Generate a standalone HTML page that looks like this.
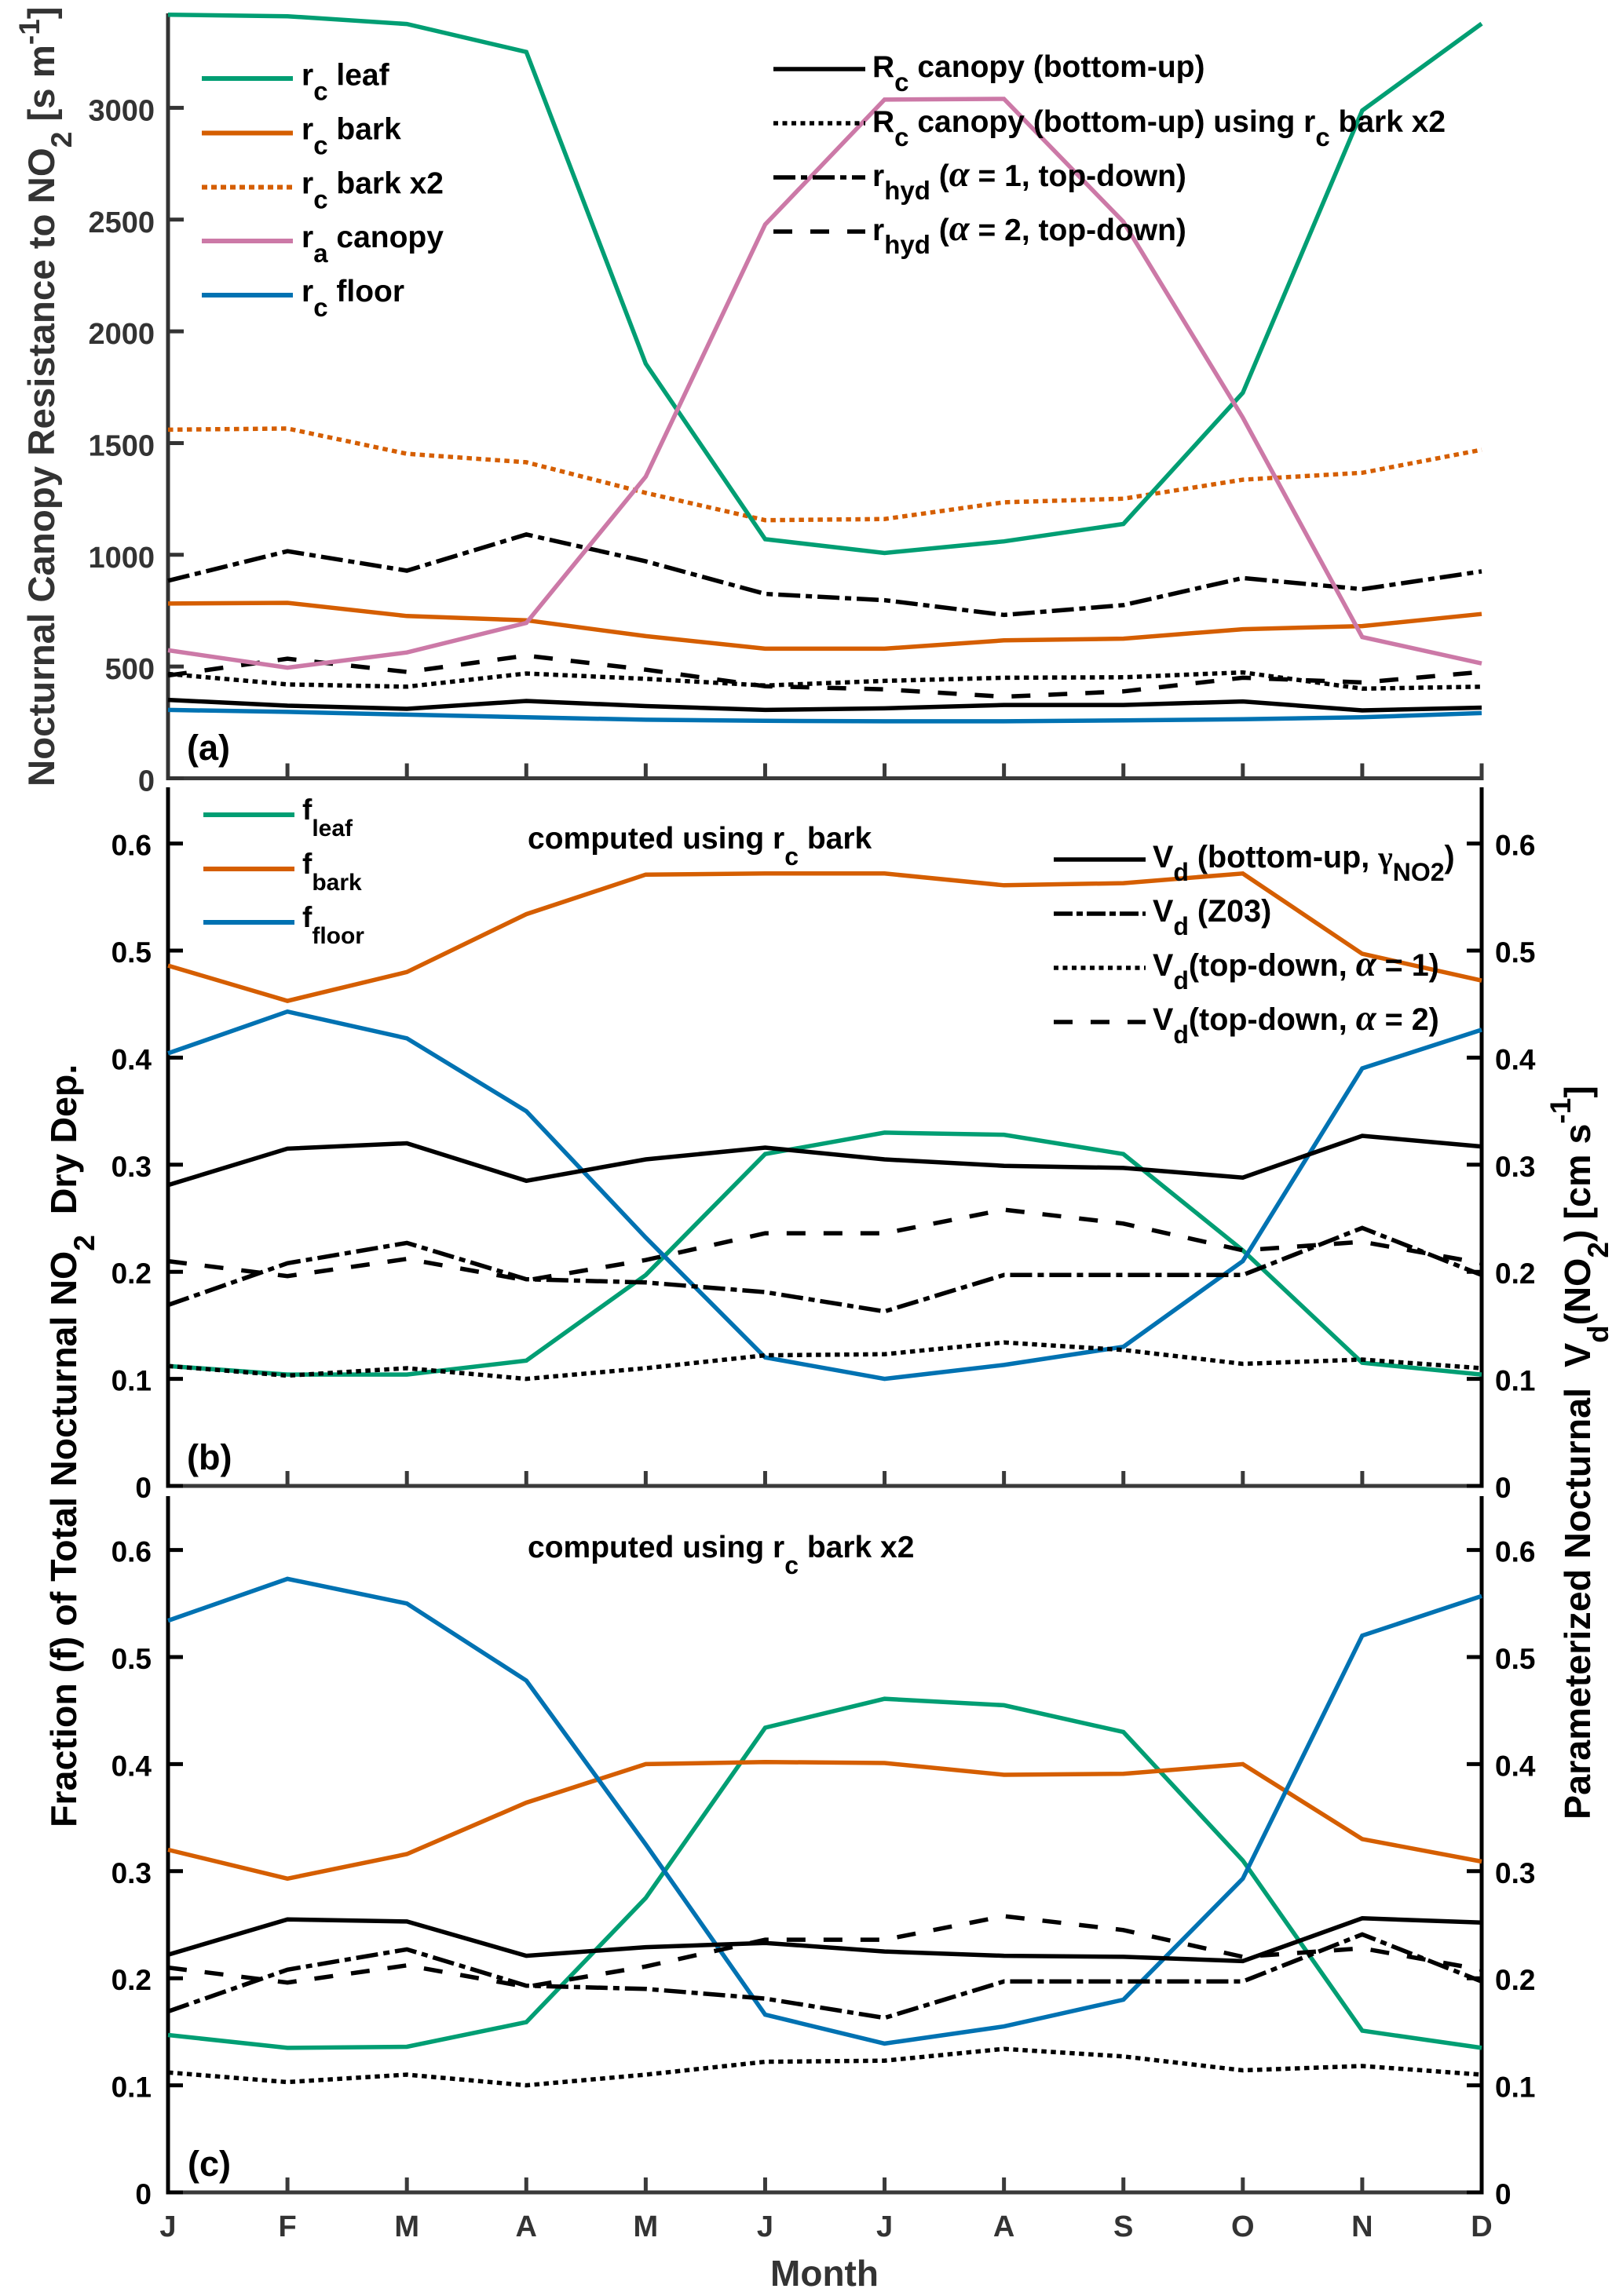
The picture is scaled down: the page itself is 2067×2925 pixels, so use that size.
<!DOCTYPE html>
<html><head><meta charset="utf-8"><title>Nocturnal canopy resistance and NO2 dry deposition</title>
<style>
html,body{margin:0;padding:0;background:#fff}
svg{display:block}
text{font-family:"Liberation Sans",Arial,sans-serif;font-weight:bold;white-space:pre;fill:#000}
.lg{font-size:39px}
.sb{font-size:33px}
.lb{font-size:37px}
.lv{font-size:39.5px}
.sc{font-size:30px}
.sv{font-size:32px}
.gr{font-family:"Liberation Serif",serif;font-style:italic;font-weight:bold;font-size:47px}
.ps{font-size:36px}
</style></head>
<body>
<svg id="chart" xmlns="http://www.w3.org/2000/svg" width="2067" height="2925" viewBox="0 0 2067 2925">
<rect width="2067" height="2925" fill="#fff"/>
<g id="marks"></g>

<text style="font-size:47.4px;fill:#333" transform="translate(69,1002) rotate(-90)">Nocturnal Canopy Resistance to NO<tspan dy="22" style="font-size:37px">2</tspan><tspan dy="-22"> [s m</tspan><tspan dy="-19" style="font-size:37px">-1</tspan><tspan dy="19">]</tspan></text>
<text style="font-size:46.6px" transform="translate(97,2328) rotate(-90)">Fraction (f) of Total Nocturnal NO<tspan dy="23" style="font-size:37px">2</tspan><tspan dy="-23">  Dry Dep.</tspan></text>
<text style="font-size:46.7px" transform="translate(2025,2318) rotate(-90)">Parameterized Nocturnal  V<tspan dy="23" style="font-size:37px">d</tspan><tspan dy="-23">(NO</tspan><tspan dy="23" style="font-size:37px">2</tspan><tspan dy="-23">) [cm s</tspan><tspan dy="-25" style="font-size:37px">-1</tspan><tspan dy="25">]</tspan></text>
<text x="1050" y="2912" text-anchor="middle" style="font-size:46px;fill:#333">Month</text>

<text x="238" y="968" style="font-size:45px">(a)</text>
<text x="238" y="1872" style="font-size:45px">(b)</text>
<text x="239" y="2772" style="font-size:45px">(c)</text>

<g>
<g><line x1="257" x2="373" y1="100" y2="100" stroke="#009E73" stroke-width="6"/><text class="lg" x="384" y="108.5">r<tspan class="sb" dy="19">c</tspan><tspan dy="-19"> leaf</tspan></text></g>
<g><line x1="257" x2="373" y1="169.5" y2="169.5" stroke="#D55E00" stroke-width="6"/><text class="lg" x="384" y="177.5">r<tspan class="sb" dy="19">c</tspan><tspan dy="-19"> bark</tspan></text></g>
<g><line x1="257" x2="373" y1="238.5" y2="238.5" stroke="#D55E00" stroke-width="6" stroke-dasharray="7 5"/><text class="lg" x="384" y="246.5">r<tspan class="sb" dy="19">c</tspan><tspan dy="-19"> bark x2</tspan></text></g>
<g><line x1="257" x2="373" y1="307" y2="307" stroke="#CC79A7" stroke-width="6"/><text class="lg" x="384" y="315">r<tspan class="sb" dy="19">a</tspan><tspan dy="-19"> canopy</tspan></text></g>
<g><line x1="257" x2="373" y1="376" y2="376" stroke="#0072B2" stroke-width="6"/><text class="lg" x="384" y="384">r<tspan class="sb" dy="19">c</tspan><tspan dy="-19"> floor</tspan></text></g>
</g>

<g>
<g><line x1="985" x2="1102" y1="88" y2="88" stroke="#000" stroke-width="5.5"/><text class="lg" x="1111" y="98">R<tspan class="sb" dy="18">c</tspan><tspan dy="-18"> canopy (bottom-up)</tspan></text></g>
<g><line x1="985" x2="1102" y1="157" y2="157" stroke="#000" stroke-width="5.5" stroke-dasharray="6 5.5"/><text class="lg" x="1111" y="168">R<tspan class="sb" dy="18">c</tspan><tspan dy="-18"> canopy (bottom-up) using r</tspan><tspan class="sb" dy="18">c</tspan><tspan dy="-18"> bark x2</tspan></text></g>
<g><line x1="985" x2="1102" y1="226" y2="226" stroke="#000" stroke-width="5.5" stroke-dasharray="28 7 8 7"/><text class="lg" x="1111" y="237">r<tspan class="sb" dy="17">hyd</tspan><tspan dy="-17"> (</tspan><tspan class="gr">α</tspan><tspan> = 1, top-down)</tspan></text></g>
<g><line x1="985" x2="1102" y1="295" y2="295" stroke="#000" stroke-width="5.5" stroke-dasharray="24 23"/><text class="lg" x="1111" y="306">r<tspan class="sb" dy="17">hyd</tspan><tspan dy="-17"> (</tspan><tspan class="gr">α</tspan><tspan> = 2, top-down)</tspan></text></g>
</g>

<g>
<g><line x1="259" x2="375" y1="1038" y2="1038" stroke="#009E73" stroke-width="6"/><text class="lb" x="385" y="1044">f<tspan class="sc" dy="21">leaf</tspan></text></g>
<g><line x1="259" x2="375" y1="1107" y2="1107" stroke="#D55E00" stroke-width="6"/><text class="lb" x="385" y="1113">f<tspan class="sc" dy="21">bark</tspan></text></g>
<g><line x1="259" x2="375" y1="1175" y2="1175" stroke="#0072B2" stroke-width="6"/><text class="lb" x="385" y="1181">f<tspan class="sc" dy="21">floor</tspan></text></g>
</g>

<text style="font-size:39px" x="672" y="1081">computed using r<tspan class="sv" dy="21">c</tspan><tspan dy="-21"> bark</tspan></text>
<text style="font-size:39px" x="672" y="1984">computed using r<tspan class="sv" dy="21">c</tspan><tspan dy="-21"> bark x2</tspan></text>

<g>
<g><line x1="1342" x2="1459" y1="1095" y2="1095" stroke="#000" stroke-width="5.5"/><text class="lv" x="1468" y="1105">V<tspan class="sv" dy="17">d</tspan><tspan dy="-17"> (bottom-up, </tspan><tspan style="font-family:'Liberation Serif',serif">γ</tspan><tspan class="sv" dy="17">NO2</tspan><tspan dy="-17">)</tspan></text></g>
<g><line x1="1342" x2="1459" y1="1164" y2="1164" stroke="#000" stroke-width="5.5" stroke-dasharray="24 5 8 5"/><text class="lv" x="1468" y="1174">V<tspan class="sv" dy="17">d</tspan><tspan dy="-17"> (Z03)</tspan></text></g>
<g><line x1="1342" x2="1459" y1="1233" y2="1233" stroke="#000" stroke-width="5.5" stroke-dasharray="6 5.5"/><text class="lv" x="1468" y="1243">V<tspan class="sv" dy="17">d</tspan><tspan dy="-17">(top-down, </tspan><tspan class="gr">α</tspan><tspan> = 1)</tspan></text></g>
<g><line x1="1342" x2="1459" y1="1302" y2="1302" stroke="#000" stroke-width="5.5" stroke-dasharray="24 23"/><text class="lv" x="1468" y="1312">V<tspan class="sv" dy="17">d</tspan><tspan dy="-17">(top-down, </tspan><tspan class="gr">α</tspan><tspan> = 2)</tspan></text></g>
</g>
</svg>

<script>
const months = ['J','F','M','A','M','J','J','A','S','O','N','D'];
const resistanceTicks = [0,500,1000,1500,2000,2500,3000];
const fractionTicks = [0,0.1,0.2,0.3,0.4,0.5,0.6];
const fractionTickLabels = ['0','0.1','0.2','0.3','0.4','0.5','0.6'];

const rcLeaf = [3417,3410,3375,3250,1855,1070,1008,1060,1138,1725,2988,3377];
const rcBark = [782,785,726,707,636,580,580,617,625,667,681,735];
const rcBarkX2 = [1560,1565,1452,1414,1277,1155,1160,1235,1251,1336,1367,1470];
const raCanopy = [573,495,563,695,1350,2478,3037,3040,2490,1614,632,514];
const rcFloor = [306,297,285,273,262,257,255,255,259,264,273,292];
const rcCanopy = [351,325,311,346,323,306,313,328,328,344,304,316];
const rcCanopyX2 = [467,420,410,469,445,415,436,450,452,474,401,410];
const rhydAlpha1 = [884,1016,929,1091,971,825,797,731,775,896,846,926];
const rhydAlpha2 = [460,535,476,549,486,412,398,365,389,450,429,476];

const fLeafB = [0.112,0.104,0.104,0.117,0.197,0.31,0.33,0.328,0.31,0.22,0.115,0.104];
const fBarkB = [0.486,0.453,0.48,0.534,0.571,0.572,0.572,0.561,0.563,0.572,0.497,0.472];
const fFloorB = [0.404,0.443,0.418,0.35,0.232,0.12,0.1,0.113,0.13,0.21,0.39,0.426];
const vdBottomUpB = [0.281,0.315,0.32,0.285,0.305,0.316,0.305,0.299,0.297,0.288,0.327,0.317];

const fLeafC = [0.147,0.135,0.136,0.159,0.275,0.434,0.461,0.455,0.43,0.31,0.151,0.135];
const fBarkC = [0.32,0.293,0.316,0.364,0.4,0.402,0.401,0.39,0.391,0.4,0.33,0.309];
const fFloorC = [0.534,0.573,0.55,0.478,0.325,0.166,0.139,0.155,0.18,0.293,0.52,0.557];
const vdBottomUpC = [0.222,0.255,0.253,0.221,0.229,0.233,0.225,0.221,0.22,0.216,0.256,0.252];

const vdZ03 = [0.169,0.208,0.227,0.193,0.19,0.181,0.163,0.197,0.197,0.197,0.241,0.197];
const vdAlpha1 = [0.112,0.103,0.11,0.1,0.11,0.122,0.123,0.134,0.127,0.114,0.118,0.11];
const vdAlpha2 = [0.21,0.196,0.212,0.192,0.211,0.236,0.236,0.258,0.245,0.22,0.228,0.208];

const NS = 'http://www.w3.org/2000/svg';
const marks = document.getElementById('marks');
const X0 = 214, X1 = 1887;
function xAxis(i){ return X0 + i * (X1 - X0) / 11; }
function yA(v){ return 991.5 - v * 0.2847; }
function yB(v){ return 1893 - v * 1364; }
function yC(v){ return 2793 - v * 1364; }

const GREEN = '#009E73', ORANGE = '#D55E00', PINK = '#CC79A7', BLUE = '#0072B2', BLACK = '#000';
const DOT = '6.5 5.5', DASHDOT = '28 7 8 7', DASH = '24 23';

function addSeries(name, values, yFn, color, dash){
  const el = document.createElementNS(NS, 'polyline');
  
  
  el.setAttribute('points', values.map(function(v, i){ return xAxis(i).toFixed(1) + ',' + yFn(v).toFixed(1); }).join(' '));
  el.setAttribute('fill', 'none');
  el.setAttribute('stroke', color);
  el.setAttribute('stroke-width', '5.5');
  el.setAttribute('stroke-linejoin', 'miter');
  if (dash) el.setAttribute('stroke-dasharray', dash);
  marks.appendChild(el);
}
function addLine(name, x1, y1, x2, y2, color, w){
  const el = document.createElementNS(NS, 'line');
  
  
  el.setAttribute('x1', x1);
  el.setAttribute('y1', y1);
  el.setAttribute('x2', x2);
  el.setAttribute('y2', y2);
  el.setAttribute('stroke', color);
  el.setAttribute('stroke-width', w);
  marks.appendChild(el);
}
function addLabel(name, x, y, str, anchor, color, size){
  const el = document.createElementNS(NS, 'text');
  
  
  el.setAttribute('x', x);
  el.setAttribute('y', y);
  el.setAttribute('text-anchor', anchor);
  el.style.fill = color;
  el.style.fontSize = size + 'px';
  el.textContent = str;
  marks.appendChild(el);
}

/* x axes with ticks */
[['a', 991.5], ['b', 1893], ['c', 2793]].forEach(function(p){
  addLine('panel-' + p[0] + '-x-axis', X0 - 2.5, p[1], X1 + 2.5, p[1], '#3a3a3a', 5);
  months.forEach(function(m, i){
    addLine('panel-' + p[0] + '-x-tick', xAxis(i), p[1] - 19, xAxis(i), p[1], '#3a3a3a', 5);
  });
});
months.forEach(function(m, i){
  addLabel('month-label', xAxis(i), 2849, m, 'middle', '#333', 38);
});

/* panel a y axis */
addLine('panel-a-y-axis', X0, 17, X0, 994, '#333', 5);
resistanceTicks.forEach(function(v){
  addLine('panel-a-y-tick', X0, yA(v), X0 + 20, yA(v), '#333', 5);
  addLabel('panel-a-y-tick-label', 197, yA(v) + 16, String(v), 'end', '#333', 38);
});

/* panels b and c y axes */
[['b', 1003, 1893, yB], ['c', 1906, 2793, yC]].forEach(function(p){
  addLine('panel-' + p[0] + '-left-axis', X0, p[1], X0, p[2] + 2.5, '#000', 5);
  addLine('panel-' + p[0] + '-right-axis', X1, p[1], X1, p[2] + 2.5, '#000', 5);
  fractionTicks.forEach(function(v, i){
    addLine('panel-' + p[0] + '-left-tick', X0, p[3](v), X0 + 19, p[3](v), '#000', 5);
    addLine('panel-' + p[0] + '-right-tick', X1 - 19, p[3](v), X1, p[3](v), '#000', 5);
    addLabel('panel-' + p[0] + '-left-tick-label', 193, p[3](v) + 15, fractionTickLabels[i], 'end', '#000', 37);
    addLabel('panel-' + p[0] + '-right-tick-label', 1904, p[3](v) + 15, fractionTickLabels[i], 'start', '#000', 37);
  });
});

/* panel a series */
addSeries('series-rc-floor', rcFloor, yA, BLUE);
addSeries('series-rc-canopy', rcCanopy, yA, BLACK);
addSeries('series-rc-canopy-x2', rcCanopyX2, yA, BLACK, DOT);
addSeries('series-rhyd-alpha-2', rhydAlpha2, yA, BLACK, DASH);
addSeries('series-rhyd-alpha-1', rhydAlpha1, yA, BLACK, DASHDOT);
addSeries('series-rc-bark', rcBark, yA, ORANGE);
addSeries('series-rc-bark-x2', rcBarkX2, yA, ORANGE, DOT);
addSeries('series-rc-leaf', rcLeaf, yA, GREEN);
addSeries('series-ra-canopy', raCanopy, yA, PINK);

/* panel b series */
addSeries('series-b-f-leaf', fLeafB, yB, GREEN);
addSeries('series-b-f-bark', fBarkB, yB, ORANGE);
addSeries('series-b-f-floor', fFloorB, yB, BLUE);
addSeries('series-b-vd-bottom-up', vdBottomUpB, yB, BLACK);
addSeries('series-b-vd-z03', vdZ03, yB, BLACK, DASHDOT);
addSeries('series-b-vd-alpha-1', vdAlpha1, yB, BLACK, DOT);
addSeries('series-b-vd-alpha-2', vdAlpha2, yB, BLACK, DASH);

/* panel c series */
addSeries('series-c-f-leaf', fLeafC, yC, GREEN);
addSeries('series-c-f-bark', fBarkC, yC, ORANGE);
addSeries('series-c-f-floor', fFloorC, yC, BLUE);
addSeries('series-c-vd-bottom-up', vdBottomUpC, yC, BLACK);
addSeries('series-c-vd-z03', vdZ03, yC, BLACK, DASHDOT);
addSeries('series-c-vd-alpha-1', vdAlpha1, yC, BLACK, DOT);
addSeries('series-c-vd-alpha-2', vdAlpha2, yC, BLACK, DASH);
</script>
</body></html>
